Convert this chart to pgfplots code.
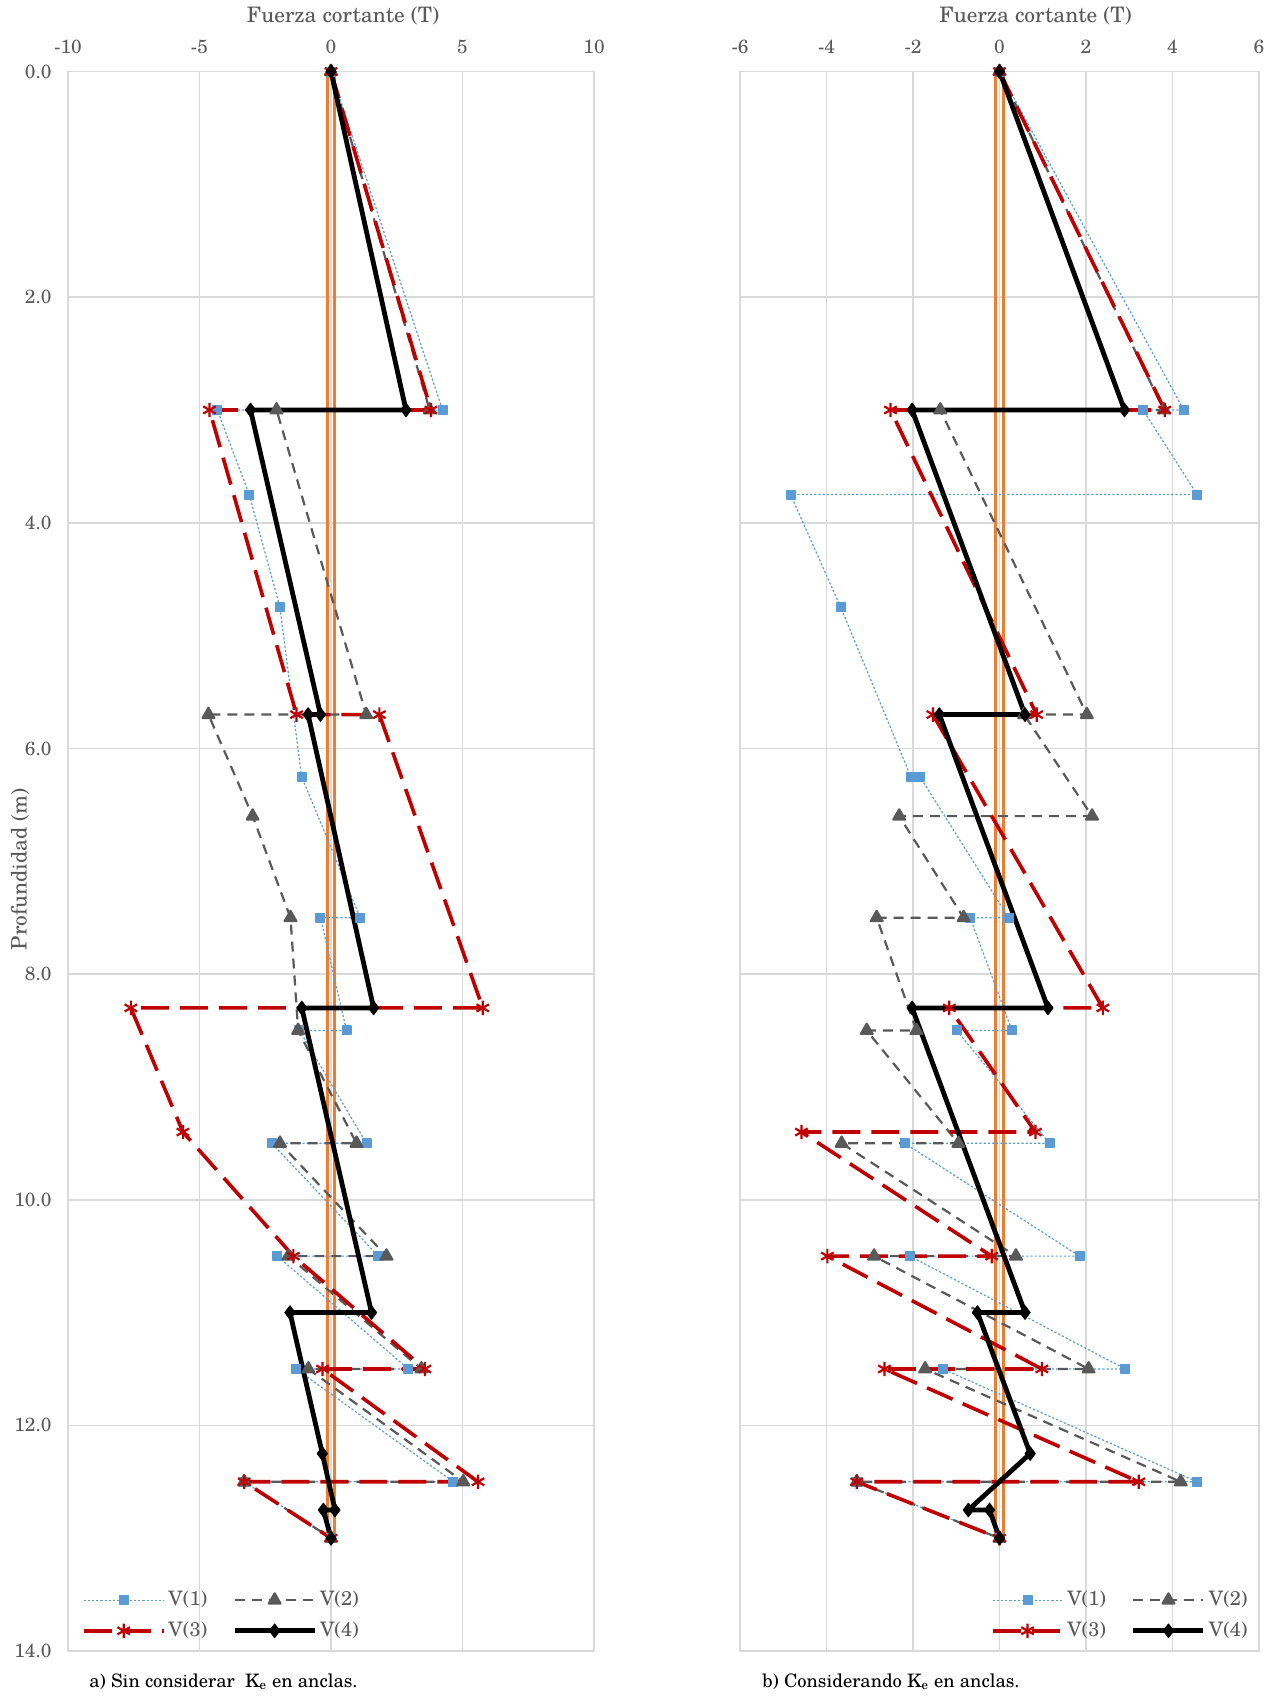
\documentclass[border=0pt]{standalone}
\usepackage{fontspec}
\setmainfont{TeX Gyre Schola}
\usepackage{pgfplots}
\pgfplotsset{compat=1.18}
\definecolor{txtc}{HTML}{595959}
\definecolor{gridc}{HTML}{D9D9D9}
\definecolor{vblue}{HTML}{5B9BD5}
\definecolor{vgray}{HTML}{595959}
\definecolor{vred}{HTML}{C00000}
\definecolor{vorange}{HTML}{ED7D31}
\newcommand{\fs}{\fontsize{9.6}{11}\selectfont}
\newcommand{\fl}{\fontsize{10.7}{12}\selectfont}
\newcommand{\fg}{\fontsize{10}{12}\selectfont}
\newcommand{\fc}{\fontsize{9.3}{11}\selectfont}
\pgfplotsset{
  panel/.style={
    scale only axis, height=789.75bp, clip=false,
    y dir=reverse, ymin=0, ymax=14, ytick={0,2,...,14},
    grid=major, major grid style={draw=gridc, line width=0.8bp},
    axis line style={draw=gridc, line width=0.8bp},
    major tick length=0pt,
    xticklabel pos=upper,
    tick label style={font=\fs, text=txtc},
    xticklabel style={anchor=center, yshift=12.25bp},
    yticklabel style={anchor=east, xshift=-4.7bp},
    every axis x label/.style={at={(axis description cs:0.5,1)}, anchor=center, yshift=28bp, font=\fl, text=txtc},
    every axis y label/.style={at={(axis description cs:0,0.5)}, anchor=center, rotate=90, yshift=24bp, xshift=-4bp, font=\fl, text=txtc},
    xlabel={Fuerza cortante (T)},
    legend columns=2,
    legend cell align=left,
    legend style={draw=none, fill=none, inner sep=0pt, font=\fg, text=txtc, row sep=3.5bp,
      nodes={inner sep=1.5bp},
      /tikz/every even column/.append style={column sep=11bp}},
  },
  v1/.style={vblue, line width=0.6bp, dash pattern=on 1.1bp off 1bp, line join=round,
    mark=square*, mark size=2.2bp, mark options={solid, fill=vblue, draw=vblue}},
  v2/.style={vgray, line width=1.1bp, dash pattern=on 5bp off 3.5bp, line join=round,
    mark=triangle*, mark size=3.4bp, mark options={solid, fill=vgray, draw=vgray}},
  v3/.style={vred, line width=1.8bp, dash pattern=on 14bp off 5.5bp, line join=round,
    mark=asterisk, mark size=3.6bp, mark options={solid, line width=1.1bp, draw=vred}},
  v4/.style={black, line width=2.4bp, line join=round,
    mark=diamond*, mark size=3.4bp, mark options={solid, fill=black, draw=black, line width=0.5bp}},
  wall/.style={vorange, line width=1.5bp, forget plot},
}
\begin{document}
\begin{tikzpicture}
\useasboundingbox (-34bp,-24bp) rectangle (603.5bp,825.5bp);
% ---------- a) ----------
\begin{axis}[panel, width=263bp, at={(0bp,0bp)},
  xmin=-10, xmax=10, xtick={-10,-5,0,5,10}, xticklabels={-10,-5,0,5,10},
  yticklabels={0.0,2.0,4.0,6.0,8.0,10.0,12.0,14.0},
  ylabel={Profundidad (m)},
  xlabel style={xshift=6bp},
  legend image code/.code={\draw[mark repeat=2,mark phase=2] plot coordinates {(0bp,0bp) (20bp,0bp) (40bp,0bp)};},
  legend style={at={(axis description cs:0,0)}, anchor=south west, xshift=6.75bp, yshift=4bp}]
\addplot[wall] coordinates {(-0.15,0) (-0.15,13)};
\addplot[wall] coordinates {(0.15,0) (0.15,13)};
\addplot[v1] coordinates {(0,0) (4.24,3.0) (-4.32,3.0) (-3.11,3.75) (-1.94,4.75) (-1.12,6.25) (1.11,7.5) (-0.40,7.5) (0.59,8.5) (-1.20,8.5) (1.35,9.5) (-2.25,9.5) (1.80,10.5) (-2.04,10.5) (2.94,11.5) (-1.33,11.5) (4.65,12.5) (-3.30,12.5) (0,13.0)};
\addlegendentry{V(1)}
\addplot[v2] coordinates {(0,0) (3.75,3.0) (-2.07,3.0) (1.34,5.7) (-4.66,5.7) (-2.98,6.6) (-1.54,7.5) (-1.25,8.5) (0.97,9.5) (-1.94,9.5) (2.11,10.5) (-1.62,10.5) (3.44,11.5) (-0.86,11.5) (5.03,12.5) (-3.30,12.5) (0,13.0)};
\addlegendentry{V(2)}
\addplot[v3] coordinates {(0,0) (3.80,3.0) (-4.62,3.0) (-1.31,5.7) (1.84,5.7) (5.77,8.3) (-7.61,8.3) (-5.63,9.4) (-1.43,10.5) (3.57,11.5) (-0.32,11.5) (5.59,12.5) (-3.30,12.5) (0,13.0)};
\addlegendentry{V(3)}
\addplot[v4] coordinates {(0,0) (2.85,3.0) (-3.06,3.0) (-0.40,5.7) (-0.87,5.7) (1.62,8.3) (-1.11,8.3) (1.54,11.0) (-1.56,11.0) (-0.33,12.25) (0.15,12.75) (-0.29,12.75) (0,13.0)};
\addlegendentry{V(4)}
\end{axis}
% ---------- b) ----------
\begin{axis}[panel, width=259.5bp, at={(336bp,0bp)},
  xmin=-6, xmax=6, xtick={-6,-4,...,6}, xticklabels={-6,-4,-2,0,2,4,6},
  yticklabels={},
  xlabel style={xshift=18bp},
  legend image code/.code={\draw[mark repeat=2,mark phase=2] plot coordinates {(0bp,0bp) (17.5bp,0bp) (35bp,0bp)};},
  legend style={at={(axis description cs:1,0)}, anchor=south east, xshift=-4bp, yshift=4bp}]
\addplot[wall] coordinates {(-0.09,0) (-0.09,13)};
\addplot[wall] coordinates {(0.09,0) (0.09,13)};
\addplot[v1] coordinates {(0,0) (4.26,3.0) (3.32,3.0) (4.57,3.75) (-4.83,3.75) (-3.67,4.75) (-2.05,6.25) (-1.84,6.25) (0.21,7.5) (-0.68,7.5) (0.29,8.5) (-0.99,8.5) (1.16,9.5) (-2.19,9.5) (1.85,10.5) (-2.07,10.5) (2.91,11.5) (-1.31,11.5) (4.57,12.5) (-3.30,12.5) (0,13.0)};
\addlegendentry{V(1)}
\addplot[v2] coordinates {(0,0) (3.80,3.0) (-1.37,3.0) (2.02,5.7) (0.57,5.7) (2.14,6.6) (-2.32,6.6) (-0.83,7.5) (-2.84,7.5) (-1.92,8.5) (-3.07,8.5) (-0.95,9.5) (-3.65,9.5) (0.38,10.5) (-2.90,10.5) (2.06,11.5) (-1.72,11.5) (4.19,12.5) (-3.30,12.5) (0,13.0)};
\addlegendentry{V(2)}
\addplot[v3] coordinates {(0,0) (3.82,3.0) (-2.52,3.0) (0.86,5.7) (-1.54,5.7) (2.39,8.3) (-1.16,8.3) (0.83,9.4) (-4.58,9.4) (-0.18,10.5) (-3.98,10.5) (0.98,11.5) (-2.66,11.5) (3.22,12.5) (-3.30,12.5) (0,13.0)};
\addlegendentry{V(3)}
\addplot[v4] coordinates {(0,0) (2.89,3.0) (-2.02,3.0) (0.59,5.7) (-1.39,5.7) (1.12,8.3) (-2.02,8.3) (0.59,11.0) (-0.51,11.0) (0.71,12.25) (-0.72,12.75) (-0.23,12.75) (0,13.0)};
\addlegendentry{V(4)}
\end{axis}
\node[anchor=west, font=\fc, inner sep=0pt] at (10.5bp,-15.5bp) {a) Sin considerar\ \ K\textsubscript{e} en anclas.};
\node[anchor=west, font=\fc, inner sep=0pt] at (347bp,-15.5bp) {b) Considerando K\textsubscript{e} en anclas.};
\end{tikzpicture}
\end{document}
